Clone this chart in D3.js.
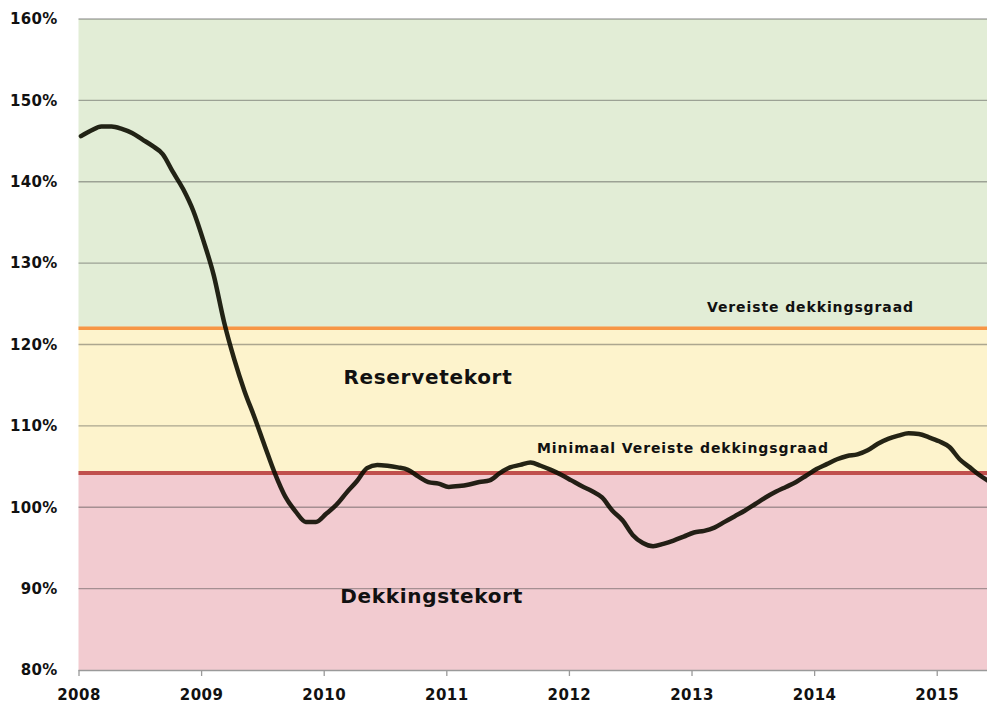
<!DOCTYPE html>
<html>
<head>
<meta charset="utf-8">
<script src="https://cdn.jsdelivr.net/npm/d3@7"></script>
<style>
  body { margin: 0; background: white; }
</style>
</head>
<body>
<div id="viz-container"></div>
<script>
let svgWidth = 987;
let svgHeight = 706;

// maand-einde dekkingsgraad
let months = [
  "2008-01","2008-02","2008-03","2008-04","2008-05","2008-06","2008-07","2008-08","2008-09","2008-10","2008-11","2008-12",
  "2009-01","2009-02","2009-03","2009-04","2009-05","2009-06","2009-07","2009-08","2009-09","2009-10","2009-11","2009-12",
  "2010-01","2010-02","2010-03","2010-04","2010-05","2010-06","2010-07","2010-08","2010-09","2010-10","2010-11","2010-12",
  "2011-01","2011-02","2011-03","2011-04","2011-05","2011-06","2011-07","2011-08","2011-09","2011-10","2011-11","2011-12",
  "2012-01","2012-02","2012-03","2012-04","2012-05","2012-06","2012-07","2012-08","2012-09","2012-10","2012-11","2012-12",
  "2013-01","2013-02","2013-03","2013-04","2013-05","2013-06","2013-07","2013-08","2013-09","2013-10","2013-11","2013-12",
  "2014-01","2014-02","2014-03","2014-04","2014-05","2014-06","2014-07","2014-08","2014-09","2014-10","2014-11","2014-12",
  "2015-01","2015-02","2015-03","2015-04","2015-05","2015-06"
];
let dekkingsgraad = [
  145.6,146.3,146.8,146.8,146.5,146.0,145.2,144.4,143.4,141.2,139.1,136.4,
  132.7,128.5,122.8,118.2,114.3,111.0,107.5,104.1,101.3,99.5,98.2,98.2,
  99.2,100.3,101.8,103.2,104.8,105.2,105.1,104.9,104.6,103.8,103.1,102.9,
  102.5,102.6,102.8,103.1,103.3,104.2,104.9,105.2,105.5,105.1,104.6,104.0,
  103.3,102.6,102.0,101.2,99.6,98.4,96.6,95.6,95.2,95.5,95.9,96.4,
  96.9,97.1,97.5,98.2,98.9,99.6,100.4,101.2,101.9,102.5,103.1,103.9,
  104.7,105.3,105.9,106.3,106.5,107.0,107.8,108.4,108.8,109.1,109.0,108.6,
  108.1,107.4,105.9,104.9,103.9,103.1
];

let yearTicks = [2008, 2009, 2010, 2011, 2012, 2013, 2014, 2015];
let pctTicks = [80, 90, 100, 110, 120, 130, 140, 150, 160];

let vereist = 122;          // Vereiste dekkingsgraad
let minimaalVereist = 104.2; // Minimaal Vereiste dekkingsgraad

let zones = [
  { name: "overschot", from: vereist, to: 160, color: "#e2edd6" },
  { name: "Reservetekort", from: minimaalVereist, to: vereist, color: "#fdf3cc" },
  { name: "Dekkingstekort", from: 80, to: minimaalVereist, color: "#f2cbd0" }
];

let fontBold = "'DejaVu Sans', Verdana, sans-serif";

let viz = d3.select("#viz-container")
  .append("svg")
    .attr("width", svgWidth)
    .attr("height", svgHeight)
    .style("background-color", "white")
    ;

let xScale = d3.scaleLinear()
  .domain([2008, 2015.41])
  .range([78.5, 987])
  ;
let yScale = d3.scaleLinear()
  .domain([80, 160])
  .range([670, 19])
  ;

function monthToYear(m){
  let parts = m.split("-");
  return +parts[0] + (+parts[1] - 1) / 12 + 0.02;
}

let lineData = months.map(function(m, i){
  return { t: monthToYear(m), v: dekkingsgraad[i] };
});

// zones
viz.selectAll(".zone").data(zones).enter()
  .append("rect")
    .attr("class", "zone")
    .attr("x", xScale(2008))
    .attr("width", xScale(2015.41) - xScale(2008))
    .attr("y", function(d){ return yScale(d.to); })
    .attr("height", function(d){ return yScale(d.from) - yScale(d.to); })
    .attr("fill", function(d){ return d.color; })
    ;

// gridlines
viz.selectAll(".grid").data(pctTicks.filter(function(d){ return d > 80; })).enter()
  .append("line")
    .attr("class", "grid")
    .attr("x1", xScale(2008))
    .attr("x2", xScale(2015.41))
    .attr("y1", function(d){ return yScale(d); })
    .attr("y2", function(d){ return yScale(d); })
    .attr("stroke", "#3c3c3c")
    .attr("stroke-opacity", 0.42)
    .attr("stroke-width", 1.3)
    ;

// grens lijnen
viz.append("line")
  .attr("x1", xScale(2008))
  .attr("x2", xScale(2015.41))
  .attr("y1", yScale(vereist))
  .attr("y2", yScale(vereist))
  .attr("stroke", "#f79646")
  .attr("stroke-width", 3.5)
  ;
viz.append("line")
  .attr("x1", xScale(2008))
  .attr("x2", xScale(2015.41))
  .attr("y1", yScale(minimaalVereist))
  .attr("y2", yScale(minimaalVereist))
  .attr("stroke", "#c0504d")
  .attr("stroke-width", 4)
  ;

// x axis
let xAxis = d3.axisBottom(xScale)
  .tickValues(yearTicks)
  .tickFormat(d3.format("d"))
  .tickSize(6)
  .tickPadding(13)
  ;
let xg = viz.append("g")
  .attr("transform", "translate(0," + yScale(80) + ")")
  .call(xAxis)
  ;
xg.select(".domain")
  .attr("stroke", "#9a9a9a")
  .attr("stroke-width", 1.3)
  .attr("d", "M" + xScale(2008) + ",0.5H" + xScale(2015.41))
  ;
xg.selectAll(".tick line").attr("stroke", "#9a9a9a").attr("stroke-width", 1.3);
xg.selectAll(".tick text")
  .attr("fill", "#111")
  .style("font-family", fontBold)
  .style("font-weight", "bold")
  .style("font-size", "15px")
  .style("letter-spacing", "0.5px")
  ;

// y axis (labels only)
let yAxis = d3.axisLeft(yScale)
  .tickValues(pctTicks)
  .tickFormat(function(d){ return d + "%"; })
  .tickSize(0)
  .tickPadding(21)
  ;
let yg = viz.append("g")
  .attr("transform", "translate(" + xScale(2008) + ",0)")
  .call(yAxis)
  ;
yg.select(".domain").remove();
yg.selectAll(".tick text")
  .attr("fill", "#111")
  .style("font-family", fontBold)
  .style("font-weight", "bold")
  .style("font-size", "15px")
  .style("letter-spacing", "0.3px")
  ;

// dekkingsgraad lijn
let line = d3.line()
  .x(function(d){ return xScale(d.t); })
  .y(function(d){ return yScale(d.v); })
  .curve(d3.curveMonotoneX)
  ;
viz.append("path")
  .datum(lineData)
  .attr("d", line)
  .attr("fill", "none")
  .attr("stroke", "#0c0c00")
  .attr("stroke-opacity", 0.9)
  .attr("stroke-width", 4.5)
  .attr("stroke-linejoin", "round")
  .attr("stroke-linecap", "round")
  ;

// labels
function zoneLabel(txt, t, v, size, spacing){
  viz.append("text")
    .text(txt)
    .attr("x", xScale(t))
    .attr("y", yScale(v))
    .attr("text-anchor", "middle")
    .attr("fill", "#111")
    .style("font-family", fontBold)
    .style("font-weight", "bold")
    .style("font-size", size + "px")
    .style("letter-spacing", spacing + "px")
    ;
}
zoneLabel("Vereiste dekkingsgraad", 2013.97, 124, 14, 0.9);
zoneLabel("Minimaal Vereiste dekkingsgraad", 2012.93, 106.7, 14, 0.9);
zoneLabel("Reservetekort", 2010.85, 115.2, 20, 0.7);
zoneLabel("Dekkingstekort", 2010.88, 88.25, 20, 0.7);
</script>
</body>
</html>
